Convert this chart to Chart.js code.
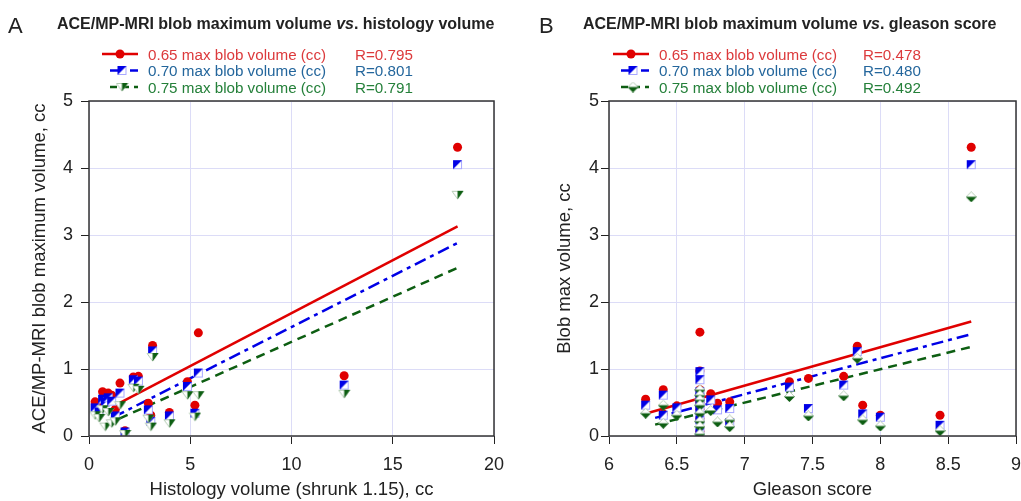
<!DOCTYPE html>
<html>
<head>
<meta charset="utf-8">
<script src="https://cdn.jsdelivr.net/npm/chart.js@4/dist/chart.umd.min.js"></script>
<style>
body{margin:0;background:#fff;width:1021px;height:501px;overflow:hidden;position:relative}
#chartA{position:absolute;left:0;top:0}
#chartB{position:absolute;left:510px;top:0}
</style>
</head>
<body>
<canvas id="chartA" width="510" height="501"></canvas>
<canvas id="chartB" width="511" height="501"></canvas>
<script>
// panel A: histology volume (cc) vs blob max volume at 3 thresholds
var histVol   = [0.3, 0.5, 0.67, 0.8, 0.95, 1.12, 1.3, 1.53, 1.78, 2.19, 2.44, 2.93, 3.05, 3.14, 3.97, 4.86, 5.23, 5.4, 12.6, 18.2];
var blob065_A = [0.51, 0.45, 0.66, 0.60, 0.64, 0.61, 0.40, 0.79, 0.08, 0.88, 0.89, 0.49, 0.31, 1.35, 0.35, 0.81, 0.46, 1.54, 0.90, 4.31];
var blob070_A = [0.42, 0.36, 0.55, 0.50, 0.57, 0.52, 0.30, 0.64, 0.06, 0.84, 0.82, 0.39, 0.22, 1.27, 0.30, 0.74, 0.34, 0.94, 0.76, 4.05];
var blob075_A = [0.31, 0.27, 0.40, 0.14, 0.36, 0.19, 0.22, 0.46, 0.03, 0.72, 0.69, 0.26, 0.14, 1.18, 0.19, 0.61, 0.29, 0.61, 0.63, 3.60];
// fitted lines (end points)
var fitA_x065 = [1.5, 18.2], fitA_y065 = [0.49, 3.13];
var fitA_x070 = [1.2, 18.2], fitA_y070 = [0.28, 2.88];
var fitA_x075 = [1.5, 18.2], fitA_y075 = [0.26, 2.51];
var R_A = ['R=0.795', 'R=0.801', 'R=0.791'];

// panel B: gleason score vs blob max volume
var gleason   = [6.27, 6.4, 6.4, 6.5, 6.67, 6.67, 6.67, 6.67, 6.67, 6.67, 6.67, 6.67, 6.75, 6.8, 6.89, 6.89, 7.33, 7.47, 7.73, 7.83, 7.87, 8.0, 8.44, 8.67];
var blob065_B = [0.55, 0.69, 0.33, 0.45, 1.55, 0.97, 0.69, 0.60, 0.50, 0.40, 0.26, 0.07, 0.63, 0.49, 0.51, 0.22, 0.81, 0.86, 0.89, 1.34, 0.46, 0.31, 0.31, 4.31];
var blob070_B = [0.46, 0.61, 0.31, 0.42, 0.96, 0.84, 0.66, 0.58, 0.48, 0.38, 0.24, 0.05, 0.54, 0.39, 0.41, 0.20, 0.73, 0.41, 0.76, 1.26, 0.33, 0.28, 0.16, 4.05];
var blob075_B = [0.34, 0.46, 0.19, 0.31, 0.69, 0.61, 0.54, 0.46, 0.34, 0.22, 0.14, 0.03, 0.38, 0.21, 0.24, 0.14, 0.59, 0.30, 0.60, 1.16, 0.24, 0.15, 0.08, 3.57];
var fitB_x065 = [6.28, 8.67], fitB_y065 = [0.34, 1.71];
var fitB_x070 = [6.34, 8.67], fitB_y070 = [0.27, 1.52];
var fitB_x075 = [6.34, 8.67], fitB_y075 = [0.17, 1.33];
var R_B = ['R=0.478', 'R=0.480', 'R=0.492'];

var seriesNames = ['0.65 max blob volume (cc)', '0.70 max blob volume (cc)', '0.75 max blob volume (cc)'];

var RED = '#e00000', BLUE = '#0000e6', GREEN = '#0d5e12';
var FONT = '"Liberation Sans", Arial, sans-serif';

function pts(xs, ys) {
  var out = [];
  for (var i = 0; i < xs.length; i++) out.push({x: xs[i], y: ys[i]});
  return out;
}

// marker images
function squareMarker() {
  var c = document.createElement('canvas'); c.width = 11; c.height = 11;
  var g = c.getContext('2d');
  g.fillStyle = '#fff'; g.fillRect(1.5, 1.5, 8, 8);
  g.strokeStyle = '#a8a8ff'; g.lineWidth = 1; g.strokeRect(1.5, 1.5, 8, 8);
  g.fillStyle = BLUE;
  g.beginPath(); g.moveTo(1, 1); g.lineTo(10, 1); g.lineTo(1, 10); g.closePath(); g.fill();
  return c;
}
function triangleMarker() {
  var c = document.createElement('canvas'); c.width = 13; c.height = 10;
  var g = c.getContext('2d');
  g.fillStyle = '#fff'; g.strokeStyle = '#b5cdb5'; g.lineWidth = 1;
  g.beginPath(); g.moveTo(1, 1.5); g.lineTo(12, 1.5); g.lineTo(6.5, 9); g.closePath(); g.fill(); g.stroke();
  g.fillStyle = GREEN;
  g.beginPath(); g.moveTo(6.5, 1); g.lineTo(12.5, 1); g.lineTo(6.5, 9.5); g.closePath(); g.fill();
  return c;
}
function diamondMarker() {
  var c = document.createElement('canvas'); c.width = 11; c.height = 11;
  var g = c.getContext('2d');
  g.fillStyle = '#fff'; g.strokeStyle = '#b5cdb5'; g.lineWidth = 1;
  g.beginPath(); g.moveTo(5.5, 0.5); g.lineTo(10.5, 5.5); g.lineTo(5.5, 10.5); g.lineTo(0.5, 5.5); g.closePath(); g.fill(); g.stroke();
  g.fillStyle = GREEN;
  g.beginPath(); g.moveTo(0, 5.5); g.lineTo(11, 5.5); g.lineTo(5.5, 11); g.closePath(); g.fill();
  return c;
}
var sqImg = squareMarker(), triImg = triangleMarker(), diaImg = diamondMarker();

var decor = {
  id: 'decor',
  afterDraw: function(chart, args, o) {
    var ctx = chart.ctx, a = chart.chartArea;
    ctx.save();
    ctx.strokeStyle = '#333'; ctx.lineWidth = 1.5;
    ctx.strokeRect(a.left, a.top, a.right - a.left, a.bottom - a.top);

    ctx.fillStyle = '#222';
    ctx.textBaseline = 'alphabetic';
    ctx.font = '22px ' + FONT;
    ctx.fillText(o.letter, o.letterX, 33);
    var x = o.titleX;
    for (var i = 0; i < o.title.length; i++) {
      ctx.font = (i == 1 ? 'italic bold 16px ' : 'bold 16px ') + FONT;
      ctx.fillText(o.title[i], x, 29);
      x += ctx.measureText(o.title[i]).width;
    }

    var lineCol = [RED, BLUE, GREEN];
    var textCol = ['#dc3a3c', '#24669c', '#25803a'];
    var dashes = [[], [9, 4, 3, 4], [7, 5]];
    var marks = [null, sqImg, o.greenImg];
    for (var r = 0; r < 3; r++) {
      var y = 54 + r * 16.5;
      ctx.strokeStyle = lineCol[r]; ctx.lineWidth = 2.5;
      ctx.setLineDash(dashes[r]);
      ctx.beginPath(); ctx.moveTo(r == 0 ? o.legX : o.legX + 8, y); ctx.lineTo(o.legX + 36, y); ctx.stroke();
      ctx.setLineDash([]);
      if (r == 0) {
        ctx.fillStyle = RED; ctx.beginPath(); ctx.arc(o.legX + 18, y, 4.5, 0, Math.PI * 2); ctx.fill();
      } else {
        var m = marks[r];
        ctx.drawImage(m, o.legX + 20 - m.width / 2, y - m.height / 2);
      }
      ctx.fillStyle = textCol[r];
      ctx.font = '15.2px ' + FONT;
      ctx.fillText(seriesNames[r], o.legX + 46, y + 5.5);
      ctx.fillText(o.rvals[r], o.rX, y + 5.5);
    }
    ctx.restore();
  }
};

function makeChart(id, c) {
  var dsets = [
    {data: pts(c.x, c.y065), pointStyle: 'circle', pointRadius: 4.5, backgroundColor: RED, borderWidth: 0, order: 3},
    {data: pts(c.x, c.y070), pointStyle: sqImg, order: 2},
    {data: pts(c.x, c.y075), pointStyle: c.greenImg, order: 1},
    {data: pts(c.f065x, c.f065y), showLine: true, pointRadius: 0, borderColor: RED, borderWidth: 2.5, order: 10},
    {data: pts(c.f070x, c.f070y), showLine: true, pointRadius: 0, borderColor: BLUE, borderWidth: 2.5, borderDash: [12, 5, 4, 5], order: 10},
    {data: pts(c.f075x, c.f075y), showLine: true, pointRadius: 0, borderColor: GREEN, borderWidth: 2.5, borderDash: [9, 6], order: 10}
  ];
  return new Chart(document.getElementById(id), {
    type: 'scatter',
    data: {datasets: dsets},
    options: {
      responsive: false,
      animation: false,
      layout: {padding: {top: 101, right: c.padRight, bottom: 0, left: 0}},
      plugins: {legend: {display: false}, tooltip: {enabled: false}, decor: c.decor},
      scales: {
        x: {
          type: 'linear', min: c.xmin, max: c.xmax,
          ticks: {stepSize: c.xstep, padding: 10, color: '#222', font: {size: 18, family: FONT}, callback: function(v) { return String(v); }},
          grid: {color: '#dcdcf7', tickColor: '#222', tickLength: 8, lineWidth: 1},
          border: {display: false},
          title: {display: true, text: c.xtitle, color: '#222', font: {size: 18.5, family: FONT}, padding: {top: 0, bottom: 0}},
          afterFit: function(s) { s.height = 65; s.paddingLeft = 0; s.paddingRight = 0; }
        },
        y: {
          type: 'linear', min: 0, max: 5,
          ticks: {stepSize: 1, padding: c.yPad, color: '#222', font: {size: 18, family: FONT}},
          grid: {color: '#dcdcf7', tickColor: '#222', tickLength: 8, lineWidth: 1},
          border: {display: false},
          title: {display: true, text: c.ytitle, color: '#222', font: {size: 18.5, family: FONT}, padding: {top: c.yTitlePad, bottom: 0}},
          afterFit: function(s) { s.width = c.yWidth; s.paddingTop = 0; s.paddingBottom = 0; }
        }
      }
    },
    plugins: [decor]
  });
}

makeChart('chartA', {
  x: histVol, y065: blob065_A, y070: blob070_A, y075: blob075_A, greenImg: triImg,
  f065x: fitA_x065, f065y: fitA_y065, f070x: fitA_x070, f070y: fitA_y070, f075x: fitA_x075, f075y: fitA_y075,
  xmin: 0, xmax: 20, xstep: 5, padRight: 16, yWidth: 89, yPad: 8, yTitlePad: 29,
  xtitle: 'Histology volume (shrunk 1.15), cc', ytitle: 'ACE/MP-MRI blob maximum volume, cc',
  decor: {letter: 'A', letterX: 8, title: ['ACE/MP-MRI blob maximum volume ', 'vs', '. histology volume'], titleX: 57,
          legX: 102, rX: 355, rvals: R_A, greenImg: triImg}
});

makeChart('chartB', {
  x: gleason, y065: blob065_B, y070: blob070_B, y075: blob075_B, greenImg: diaImg,
  f065x: fitB_x065, f065y: fitB_y065, f070x: fitB_x070, f070y: fitB_y070, f075x: fitB_x075, f075y: fitB_y075,
  xmin: 6, xmax: 9, xstep: 0.5, padRight: 4, yWidth: 99, yPad: 2, yTitlePad: 44,
  xtitle: 'Gleason score', ytitle: 'Blob max volume, cc',
  decor: {letter: 'B', letterX: 29, title: ['ACE/MP-MRI blob maximum volume ', 'vs', '. gleason score'], titleX: 73,
          legX: 103, rX: 353, rvals: R_B, greenImg: diaImg}
});
</script>
</body>
</html>
